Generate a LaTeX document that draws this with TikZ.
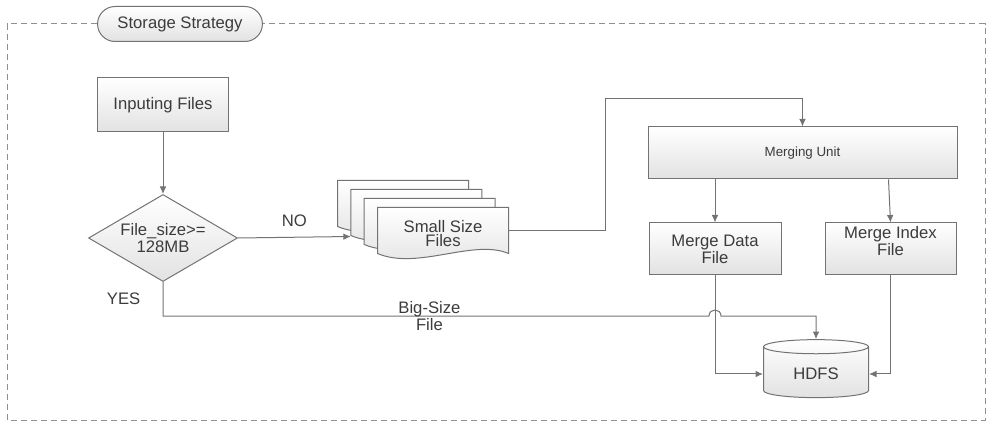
\documentclass[tikz,border=0pt]{standalone}
\usepackage{fontspec}
\setmainfont{Liberation Sans}
\usetikzlibrary{shapes.geometric,shapes.misc,arrows.meta,calc}
\definecolor{linegray}{RGB}{115,115,115}
\definecolor{textgray}{RGB}{60,60,60}
\definecolor{fillgray}{RGB}{226,226,226}
\tikzstyle{box} = [draw=linegray, rectangle, top color=white, bottom color=fillgray, text=textgray, align=center, inner sep=1pt]
\tikzstyle{frame} = [draw=linegray!80, dash pattern=on 3.6pt off 2.4pt]

\begin{document}
\begin{tikzpicture}[x=0.6pt, y=-0.6pt,
			>={Latex[length=4.5pt,width=4pt]},   % Pfeilspitzen
			line width=0.6pt, font=\fontsize{10}{8.4}\selectfont,
			pill/.style={rounded rectangle, draw=linegray, top color=white, bottom color=fillgray, text=textgray, minimum width=105.6pt, minimum height=21pt},
			decision/.style={diamond, draw=linegray, top color=white, bottom color=fillgray, text=textgray, align=center, inner sep=0pt, aspect=1.7, minimum width=89.4pt, minimum height=52.2pt},
			sheet/.style={rectangle, inner sep=0pt, minimum width=78pt, minimum height=27pt},
			doc/.style={draw=linegray, top color=white, bottom color=fillgray},
			store/.style={cylinder, shape border rotate=90, draw=linegray, top color=white, bottom color=fillgray, text=textgray, aspect=0.25, minimum width=63pt, minimum height=34.8pt},
			lbl/.style={text=textgray, align=center}]
			\useasboundingbox (0,0) rectangle (998,424);
			% Rahmen mit Titel
			\node[pill] (title) at (180,24) {Storage Strategy};
			\draw[frame] (title.west) -- (7,24) -- (7,420) -- (985,420) -- (985,24) -- (title.east);
			% Bausteine
			\node[box, minimum width=78.6pt, minimum height=32.4pt] (input) at (163,105) {Inputing Files};
			\node[decision] (decide) at (163,238) {File\_size>=\\128MB};
			\foreach \i/\x/\y in {0/403/203.5, 1/416.3/212.5, 2/429.7/221.5, 3/443/230.5} {
				\node[sheet] (sheet\i) at (\x,\y) {};
				\draw[doc] (sheet\i.north west) -- (sheet\i.north east) -- (sheet\i.south east) .. controls +(-35,-15) and +(40,17) .. (sheet\i.south west) -- cycle;
			}
			\node[lbl] (small) at ($(sheet3.center)+(0,3)$) {Small Size\\Files};
			\node[box, minimum width=185.4pt, minimum height=31.2pt, font=\fontsize{8}{9}\selectfont] (merge) at (802.5,153) {Merging Unit};
			\node[box, minimum width=79.2pt, minimum height=31.2pt] (data) at (715,249) {Merge Data\\File};
			\node[box, minimum width=78.6pt, minimum height=31.2pt, text depth=9.5pt] (index) at (890.5,249) {Merge Index\\File};
			\node[store] (hdfs) at (816,374) {HDFS};
			% Verbindungen
			\draw[linegray, ->] (input) -- (decide);
			\draw[linegray, ->] (decide.east) -- ($(sheet1.south west)+(0,1)$) node[midway, above=3pt, lbl] {NO};
			\draw[linegray, ->] (sheet3.east) -- ++(97,0) |- ($(merge.north)+(0,-28)$) -- (merge.north);
			\draw[linegray, ->] (merge.south -| data.north) -- (data.north);
			\draw[linegray, ->] ($(merge.south)+(86,0)$) -- (index.north);
			\draw[linegray, ->] (data.south) |- (hdfs.west);
			\draw[linegray, ->] (index.south) |- (hdfs.east);
			\draw[linegray, ->] (decide.south) |- ($(data.south |- 0,316)+(-6,0)$) node[pos=0.25, left=10pt, lbl] {YES} node[pos=0.744, lbl] {Big-Size\\File}
				.. controls +(0,-8) and +(0,-8) .. ++(12,0) -| (hdfs.top);
		\end{tikzpicture}
\end{document}
